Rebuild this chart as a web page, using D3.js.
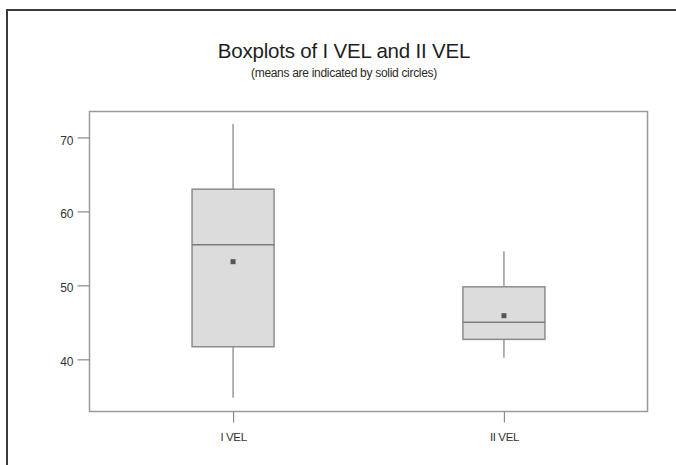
<!DOCTYPE html>
<html>
<head>
<meta charset="utf-8">
<script src="https://cdn.jsdelivr.net/npm/d3@7"></script>
<style>
  html, body { margin: 0; padding: 0; background: #fff; }
  svg { display: block; font-family: "Liberation Sans", Arial, sans-serif; }
</style>
</head>
<body>
<svg id="chart" width="676" height="465"></svg>
<script>
// Five-number summaries and means for each variable
const categories = ["I VEL", "II VEL"];
const mins    = [34.8, 40.2];
const q1s     = [41.7, 42.7];
const medians = [55.5, 45.0];
const q3s     = [63.0, 49.8];
const maxs    = [71.8, 54.6];
const means   = [53.2, 45.9];
const yTicks  = [40, 50, 60, 70];

const titleText = "Boxplots of I VEL and II VEL";
const subtitleText = "(means are indicated by solid circles)";

const rows = categories.map((c, i) => ({
  name: c, min: mins[i], q1: q1s[i], median: medians[i],
  q3: q3s[i], max: maxs[i], mean: means[i]
}));

const svg = d3.select("#chart");
const plotL = 89.5, plotR = 647.5, plotT = 111.5, plotB = 411.5;

const x = d3.scalePoint().domain(categories).range([plotL, plotR]).padding(0.53);
const y = d3.scaleLinear().domain([32.95, 73.5]).range([plotB, plotT]);
const boxW = 82;

// Outer frame (top and left edges)
svg.append("path")
  .attr("d", `M7,465 L7,10 L676,10`)
  .attr("fill", "none").attr("stroke", "#3a3a3a").attr("stroke-width", 2);

// Titles
svg.append("text")
  .attr("x", 344).attr("y", 57.5)
  .attr("text-anchor", "middle")
  .attr("font-size", 20.5).attr("fill", "#1e1e1e")
  .attr("letter-spacing", -0.2)
  .text(titleText);
svg.append("text")
  .attr("x", 344).attr("y", 77)
  .attr("text-anchor", "middle")
  .attr("font-size", 12).attr("fill", "#2a2a2a")
  .attr("letter-spacing", -0.3)
  .text(subtitleText);

// Plot frame
svg.append("rect")
  .attr("x", plotL).attr("y", plotT)
  .attr("width", plotR - plotL).attr("height", plotB - plotT)
  .attr("fill", "none").attr("stroke", "#9a9a9a").attr("stroke-width", 1.5);

// Y axis
const yAxis = d3.axisLeft(y).tickValues(yTicks).tickSize(12).tickPadding(4);
const gy = svg.append("g").attr("transform", `translate(${plotL},0)`).call(yAxis);
gy.select(".domain").remove();
gy.selectAll(".tick line").attr("stroke", "#8a8a8a").attr("stroke-width", 1.2);
gy.selectAll(".tick text")
  .attr("font-size", 12).attr("fill", "#333").attr("font-family", "Liberation Sans, Arial, sans-serif")
  .attr("dy", "0.55em");

// X axis
const xAxis = d3.axisBottom(x).tickSize(11).tickPadding(10);
const gx = svg.append("g").attr("transform", `translate(0,${plotB})`).call(xAxis);
gx.select(".domain").remove();
gx.selectAll(".tick line").attr("stroke", "#8a8a8a").attr("stroke-width", 1.2);
gx.selectAll(".tick text")
  .attr("font-size", 11.5).attr("fill", "#333").attr("font-family", "Liberation Sans, Arial, sans-serif")
  .attr("letter-spacing", -0.4);

// Boxes
const g = svg.append("g").selectAll("g").data(rows).join("g");

// whiskers
g.append("line")
  .attr("x1", d => x(d.name)).attr("x2", d => x(d.name))
  .attr("y1", d => y(d.max)).attr("y2", d => y(d.q3))
  .attr("stroke", "#9a9a9a").attr("stroke-width", 1.5);
g.append("line")
  .attr("x1", d => x(d.name)).attr("x2", d => x(d.name))
  .attr("y1", d => y(d.q1)).attr("y2", d => y(d.min))
  .attr("stroke", "#9a9a9a").attr("stroke-width", 1.5);

// box
g.append("rect")
  .attr("x", d => x(d.name) - boxW / 2)
  .attr("y", d => y(d.q3))
  .attr("width", boxW)
  .attr("height", d => y(d.q1) - y(d.q3))
  .attr("fill", "#dcdcdc").attr("stroke", "#8c8c8c").attr("stroke-width", 1.5);

// median
g.append("line")
  .attr("x1", d => x(d.name) - boxW / 2).attr("x2", d => x(d.name) + boxW / 2)
  .attr("y1", d => y(d.median)).attr("y2", d => y(d.median))
  .attr("stroke", "#7c7c7c").attr("stroke-width", 1.5);

// mean marker
g.append("rect")
  .attr("x", d => x(d.name) - 2.5).attr("y", d => y(d.mean) - 2.5)
  .attr("width", 5).attr("height", 5)
  .attr("fill", "#555");
</script>
</body>
</html>
